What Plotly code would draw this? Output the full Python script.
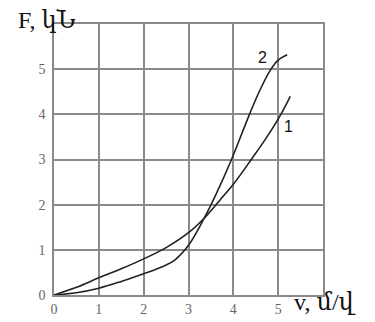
import plotly.graph_objects as go

v1 = [0, 0.5, 1, 1.5, 2, 2.5, 3, 3.35, 3.7, 4, 4.4, 4.75, 5.06, 5.27]
F1 = [0, 0.17, 0.38, 0.58, 0.8, 1.05, 1.38, 1.7, 2.1, 2.45, 3.0, 3.5, 4.0, 4.4]
v2 = [0, 0.5, 1, 1.5, 2, 2.4, 2.7, 3.0, 3.35, 3.6, 3.96, 4.36, 4.6, 4.84, 5.0, 5.2]
F2 = [0, 0.05, 0.15, 0.3, 0.47, 0.62, 0.78, 1.1, 1.7, 2.2, 3.0, 4.0, 4.55, 5.0, 5.2, 5.32]
ticks = [0, 1, 2, 3, 4, 5]
tick_text = ["0", "1", "2", "3", "4", "5"]
curve_labels = ["1", "2"]
label_pos = [(5.24, 3.73), (4.65, 5.25)]

serif = "Times New Roman, Liberation Serif, serif"
title_font = "Times New Roman, Liberation Serif, DejaVu Serif"

fig = go.Figure()
fig.add_trace(go.Scatter(x=v1, y=F1, mode="lines", line=dict(color="#222", width=1.6, shape="spline"), showlegend=False))
fig.add_trace(go.Scatter(x=v2, y=F2, mode="lines", line=dict(color="#222", width=1.6, shape="spline"), showlegend=False))

for t, (x, y) in zip(curve_labels, label_pos):
    fig.add_annotation(x=x, y=y, text=t, showarrow=False, font=dict(family="Arial, Liberation Sans", size=16, color="#111"))

fig.add_annotation(x=0, y=1, xref="paper", yref="paper", xanchor="left", yanchor="middle",
                   xshift=-38, yshift=4, text="F, կՆ", showarrow=False,
                   font=dict(family=title_font, size=24, color="#111"))
fig.add_annotation(x=1, y=0, xref="paper", yref="paper", xanchor="left", yanchor="middle",
                   xshift=-31, yshift=-7, text="v, մ/վ", showarrow=False,
                   font=dict(family=title_font, size=24, color="#111"))

axis_common = dict(range=[0, 6], tickvals=ticks, ticktext=tick_text, showgrid=True,
                   gridcolor="#8a8a8a", gridwidth=1.5, showline=True, mirror=True,
                   linecolor="#8a8a8a", linewidth=1.5, zeroline=False, ticks="",
                   automargin=False,
                   tickfont=dict(family=serif, size=14, color="#666"), fixedrange=True)
fig.update_xaxes(**axis_common)
fig.update_yaxes(**axis_common, ticklabelstandoff=4)
fig.update_layout(width=367, height=314, margin=dict(l=46, r=52, t=16, b=27),
                  plot_bgcolor="white", paper_bgcolor="white",
                  font=dict(family=serif))

fig.write_html("out.html")
